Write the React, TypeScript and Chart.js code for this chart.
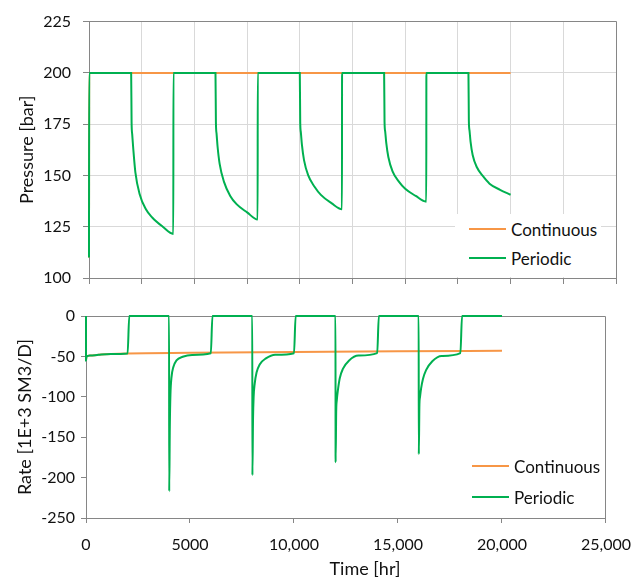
import React, { useEffect, useRef } from "react";
import { Chart, registerables } from "chart.js";

Chart.register(...registerables);

// ---------- data ----------
const seriesNames = ["Continuous", "Periodic"];

// Pressure [bar]
const pressureContinuousT = [0, 10, 20000];
const pressureContinuousV = [110, 200, 200];

const pressureStartT = [0, 10];
const pressureStartV = [110, 200];
const shutInStarts = [2000, 6000, 10000, 14000, 18000];
const declineOffsets = [0, 20, 50, 100, 200, 400, 700, 1000, 1500, 2000];
const declineCycle1 = [200, 176, 170, 163, 151.5, 141, 133.5, 129.5, 125, 121.5];
const declineCycle2 = [200, 176, 170.5, 164, 155.5, 147, 140, 136, 132, 128.5];
const declineCycle3 = [200, 176, 171, 165, 157.5, 150, 144.5, 140.5, 136.5, 133.5];
const declineCycle4 = [200, 176, 171.5, 166, 159, 152, 147, 143.5, 140, 137.2];
const declineCycle5 = [200, 176.5, 172, 166.5, 160, 154, 149.5, 146, 143, 140.6];

// Rate [1E+3 SM3/D]
const rateContinuousT = [0, 20, 200, 600, 1200, 2000, 5000, 10000, 15000, 20000];
const rateContinuousV = [-55, -50.5, -49, -48, -47, -46.3, -45.5, -44.5, -43.7, -43];

const rateStartT = [0, 1, 20, 200, 600, 1200, 2000];
const rateStartV = [0, -55, -50.5, -49, -48, -47, -46.3];
const reopenTimes = [4000, 8000, 12000, 16000];
const recoveryOffsets = [0, 30, 60, 110, 200, 350, 650, 1100, 2000];
const recovery1 = [-217, -137, -97, -76, -63, -55, -50.5, -48.3, -46.2];
const recovery2 = [-197, -128, -100, -84, -70, -60, -52.5, -48, -46];
const recovery3 = [-181, -117, -104, -92, -77, -65.5, -55, -49, -46];
const recovery4 = [-171, -110, -100, -90, -78, -67, -56, -49.5, -46];
const rateEndT = 20000;

const xTickLabels = ["0", "5000", "10,000", "15,000", "20,000", "25,000"];

// ---------- styles ----------
const FONT = "Lato";
const TEXT = "#111111";
const AXIS = "#868686";
const GRID = "#d9d9d9";
const ORANGE = "#F79646";
const GREEN = "#00B050";

type P = { x: number; y: number };
const zip = (t: number[], v: number[]): P[] => t.map((x, i) => ({ x, y: v[i] }));

function buildPeriodicPressure(): P[] {
  const pts: P[] = zip(pressureStartT, pressureStartV);
  const cycles = [declineCycle1, declineCycle2, declineCycle3, declineCycle4, declineCycle5];
  cycles.forEach((cyc, i) => {
    const s = shutInStarts[i];
    declineOffsets.forEach((o, j) => pts.push({ x: s + o, y: cyc[j] }));
    if (i < cycles.length - 1) pts.push({ x: s + 2000 + 5, y: 200 });
  });
  return pts;
}

function buildPeriodicRate(): P[] {
  const pts: P[] = zip(rateStartT, rateStartV);
  pts.push({ x: 2080, y: 0 });
  const recs = [recovery1, recovery2, recovery3, recovery4];
  recs.forEach((rec, i) => {
    const s = reopenTimes[i];
    pts.push({ x: s - 5, y: 0 });
    recoveryOffsets.forEach((o, j) => pts.push({ x: s + o, y: rec[j] }));
    pts.push({ x: s + 2000 + 80, y: 0 });
  });
  pts.push({ x: rateEndT, y: 0 });
  return pts;
}

const alignPx = (v: number) => Math.round(v - 0.5) + 0.5;

const boxPlugin = {
  id: "plotBox",
  beforeDatasetsDraw(chart: any) {
    const { ctx, chartArea: a } = chart;
    ctx.save();
    ctx.strokeStyle = AXIS;
    ctx.lineWidth = 1;
    ctx.beginPath();
    ctx.moveTo(alignPx(a.left), alignPx(a.top));
    ctx.lineTo(alignPx(a.right), alignPx(a.top));
    ctx.lineTo(alignPx(a.right), alignPx(a.bottom));
    ctx.stroke();
    ctx.restore();
  },
};

const lineDs = (label: string, data: P[], color: string, order: number) => ({
  label,
  data,
  borderColor: color,
  backgroundColor: color,
  borderWidth: 2,
  pointRadius: 0,
  cubicInterpolationMode: "monotone" as const,
  fill: false,
  clip: 4,
  order,
});

function LegendBox({ left, top, rowGap, bg }: { left: number; top: number; rowGap: number; bg?: boolean }) {
  const colors = [ORANGE, GREEN];
  return (
    <>
      {bg && (
        <div style={{ position: "absolute", left: left - 14, top: top - 15, width: 146, height: 63, background: "#fff" }} />
      )}
      {seriesNames.map((n, i) => (
        <div
          key={n}
          style={{
            position: "absolute",
            left,
            top: top + i * rowGap - 12,
            height: 24,
            display: "flex",
            alignItems: "center",
            fontFamily: FONT,
            fontSize: 17,
            color: TEXT,
            whiteSpace: "nowrap",
          }}
        >
          <div style={{ width: 37, height: 2, background: colors[i], marginRight: 5 }} />
          <span>{n}</span>
        </div>
      ))}
    </>
  );
}

export default function App() {
  const topRef = useRef<HTMLCanvasElement>(null);
  const botRef = useRef<HTMLCanvasElement>(null);

  useEffect(() => {
    const tickFont = { family: FONT, size: 16 };
    const titleFont = { family: FONT, size: 18 };

    const top = new Chart(topRef.current!, {
      type: "line",
      data: {
        datasets: [
          lineDs(seriesNames[0], zip(pressureContinuousT, pressureContinuousV), ORANGE, 1),
          lineDs(seriesNames[1], buildPeriodicPressure(), GREEN, 0),
        ],
      },
      options: {
        animation: false,
        responsive: false,
        devicePixelRatio: 1,
        layout: { padding: { left: 12, right: 27, top: 20, bottom: 0 } },
        plugins: { legend: { display: false }, tooltip: { enabled: false } },
        scales: {
          x: {
            type: "linear",
            min: 0,
            max: 25000,
            ticks: { stepSize: 2500, display: false },
            grid: { color: GRID, tickColor: AXIS, tickLength: 6, drawTicks: true },
            border: { color: AXIS, width: 1 },
            afterFit: (s: any) => {
              s.height = 22;
            },
          },
          y: {
            type: "linear",
            min: 100,
            max: 225,
            ticks: { stepSize: 25, font: tickFont, color: TEXT, padding: 12 },
            grid: { color: GRID, tickColor: AXIS, tickLength: 6 },
            border: { color: AXIS, width: 1 },
            title: { display: true, text: "Pressure [bar]", font: titleFont, color: TEXT, padding: { top: 4, bottom: 0 } },
            afterFit: (s: any) => {
              s.width = 77;
            },
          },
        },
      } as any,
      plugins: [boxPlugin],
    });

    const bot = new Chart(botRef.current!, {
      type: "line",
      data: {
        datasets: [
          lineDs(seriesNames[0], zip(rateContinuousT, rateContinuousV), ORANGE, 1),
          lineDs(seriesNames[1], buildPeriodicRate(), GREEN, 0),
        ],
      },
      options: {
        animation: false,
        responsive: false,
        devicePixelRatio: 1,
        layout: { padding: { left: 10, right: 31, top: 16, bottom: 0 } },
        plugins: { legend: { display: false }, tooltip: { enabled: false } },
        scales: {
          x: {
            type: "linear",
            min: 0,
            max: 25000,
            ticks: {
              stepSize: 5000,
              font: tickFont,
              color: TEXT,
              padding: 12,
              maxRotation: 0,
              callback: (_v: any, i: number) => xTickLabels[i],
            },
            grid: { drawOnChartArea: false, color: AXIS, tickColor: AXIS, tickLength: 5 },
            border: { color: AXIS, width: 1 },
            afterFit: (s: any) => {
              s.height = 61;
            },
          },
          y: {
            type: "linear",
            min: -250,
            max: 0,
            ticks: { stepSize: 50, font: tickFont, color: TEXT, padding: 6 },
            grid: { drawOnChartArea: false, color: AXIS, tickColor: AXIS, tickLength: 5 },
            border: { color: AXIS, width: 1 },
            title: { display: true, text: "Rate [1E+3 SM3/D]", font: titleFont, color: TEXT, padding: { top: 4, bottom: 0 } },
            afterFit: (s: any) => {
              s.width = 76;
            },
          },
        },
      } as any,
      plugins: [boxPlugin],
    });

    return () => {
      top.destroy();
      bot.destroy();
    };
  }, []);

  return (
    <div style={{ position: "fixed", left: 0, top: 0, width: 643, height: 579, background: "#fff", overflow: "hidden" }}>
      <canvas ref={topRef} width={643} height={300} style={{ position: "absolute", left: 0, top: 0, width: 643, height: 300 }} />
      <canvas ref={botRef} width={643} height={279} style={{ position: "absolute", left: 0, top: 300, width: 643, height: 279 }} />
      <LegendBox left={469} top={229} rowGap={29} bg />
      <LegendBox left={472} top={466} rowGap={31} />
      <div
        style={{
          position: "absolute",
          left: 365,
          top: 568,
          transform: "translate(-50%, -50%)",
          fontFamily: FONT,
          fontSize: 18,
          color: TEXT,
          whiteSpace: "nowrap",
        }}
      >
        Time [hr]
      </div>
    </div>
  );
}
